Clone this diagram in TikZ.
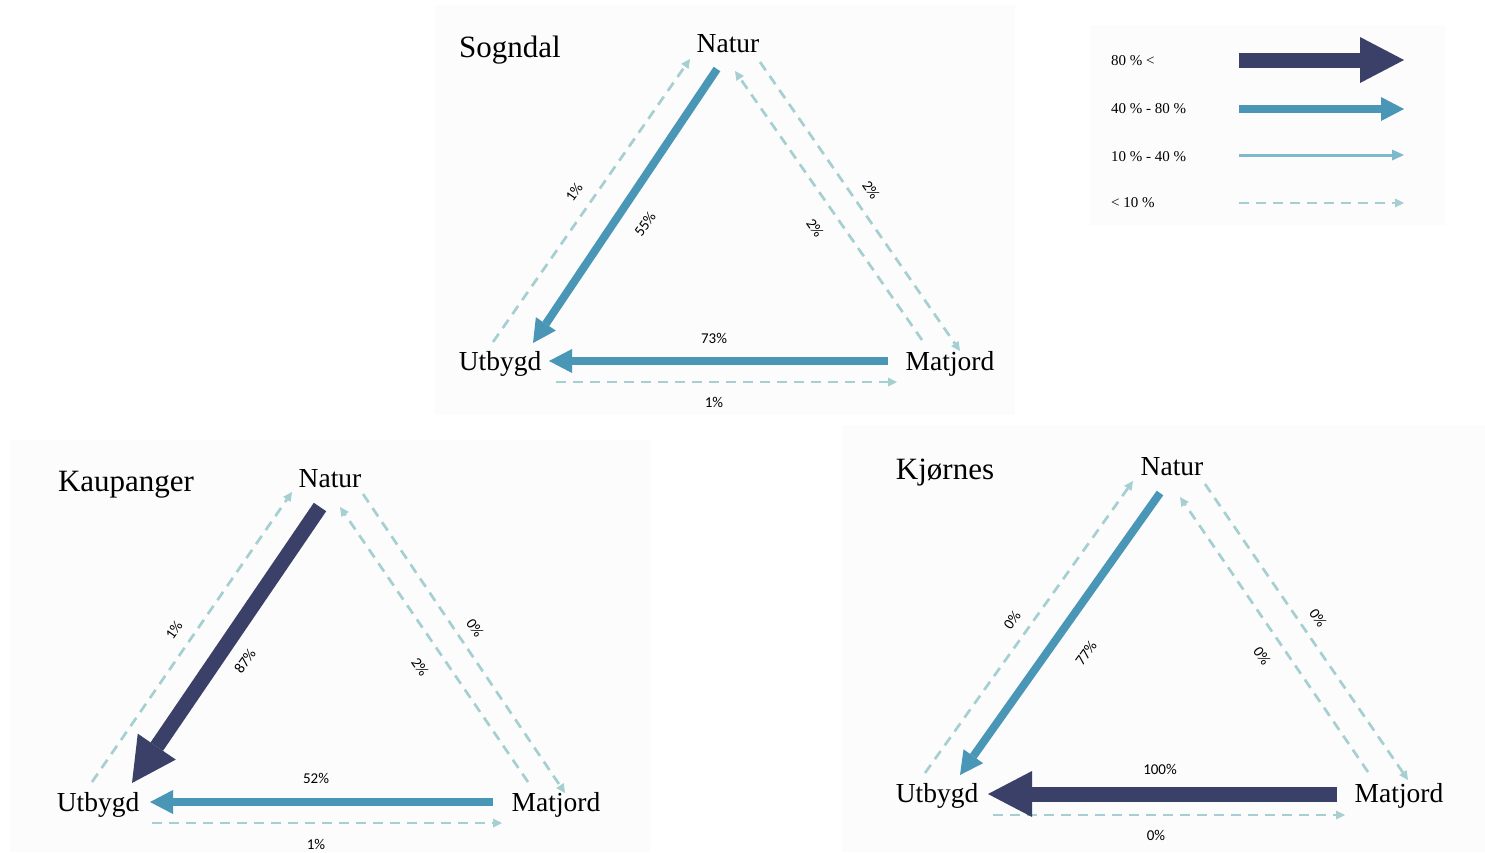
\documentclass[tikz,border=0pt]{standalone}
\usepackage{fontspec}
\setmainfont{Liberation Serif}
\newfontfamily\labfont{Carlito}
\usetikzlibrary{arrows.meta}
\definecolor{navy}{HTML}{3B4068}
\definecolor{midblue}{HTML}{4A96B6}
\definecolor{lightblue}{HTML}{7FB8CB}
\definecolor{dashblue}{HTML}{A5CFD1}
\definecolor{panelbg}{HTML}{FCFCFC}
\tikzset{
  place/.style={font=\fontsize{27.5}{30}\selectfont, inner sep=0pt},
  ttl/.style={font=\fontsize{31}{34}\selectfont, inner sep=0pt},
  pct/.style={font=\labfont\fontsize{15}{17}\selectfont, inner sep=0pt},
  leg/.style={font=\fontsize{15}{17}\selectfont, anchor=west, inner sep=0pt},
  flowlow/.style={draw=dashblue, line width=2.7pt, dash pattern=on 10pt off 7pt,
    -{Triangle[width=9pt,length=9pt,line width=0pt]}},
  flowmid/.style={draw=lightblue, line width=3pt,
    -{Triangle[width=11pt,length=12pt,line width=0pt]}},
  flowhigh/.style={draw=midblue, line width=8pt,
    -{Triangle[width=24pt,length=23pt,line width=0pt]}},
  flowtop/.style={draw=navy, line width=15pt,
    -{Triangle[width=46pt,length=44pt,line width=0pt]}},
  bgpanel/.style={fill=panelbg, draw=none}
}
\begin{document}
\begin{tikzpicture}[x=1pt,y=-1pt]
\useasboundingbox (0,0) rectangle (1485,852);
% faint panels
\fill[bgpanel] (435,5) rectangle (1015,415);
\fill[bgpanel] (10,440) rectangle (650,852);
\fill[bgpanel] (842,425) rectangle (1485,852);
\fill[bgpanel] (1090,25) rectangle (1445,225);

% ---------------- Sogndal ----------------
\node[ttl]   (sT) at (510,50) {Sogndal};
\node[place] (sN) at (728,44) {Natur};
\node[place] (sU) at (500,364) {Utbygd};
\node[place] (sM) at (950,364) {Matjord};
\coordinate (sNUa) at (717,69);  \coordinate (sNUb) at (533,343);
\coordinate (sMUa) at (888,361); \coordinate (sMUb) at (549,361);
\coordinate (sUNa) at (493,342); \coordinate (sUNb) at (690,59);
\coordinate (sNMa) at (760,62);  \coordinate (sNMb) at (960,351);
\coordinate (sMNa) at (922,340); \coordinate (sMNb) at (735,71);
\coordinate (sUMa) at (556,382); \coordinate (sUMb) at (897,382);
\draw[flowlow]  (sUNa) -- (sUNb);
\draw[flowlow]  (sNMa) -- (sNMb);
\draw[flowlow]  (sMNa) -- (sMNb);
\draw[flowlow]  (sUMa) -- (sUMb);
\draw[flowhigh] (sNUa) -- (sNUb);
\draw[flowhigh] (sMUa) -- (sMUb);
\node[pct, rotate=55]  (sL1) at (574,192) {1\%};
\node[pct, rotate=55]  (sL2) at (645,224) {55\%};
\node[pct, rotate=-55] (sL3) at (871,190) {2\%};
\node[pct, rotate=-55] (sL4) at (815,228) {2\%};
\node[pct]             (sL5) at (714,338) {73\%};
\node[pct]             (sL6) at (714,402) {1\%};

% ---------------- Kaupanger ----------------
\node[ttl]   (kT) at (126,485) {Kaupanger};
\node[place] (kN) at (330,479) {Natur};
\node[place] (kU) at (98,805) {Utbygd};
\node[place] (kM) at (556,805) {Matjord};
\coordinate (kNUa) at (320,507); \coordinate (kNUb) at (132,783);
\coordinate (kMUa) at (493,802); \coordinate (kMUb) at (150,802);
\coordinate (kUNa) at (92,782);  \coordinate (kUNb) at (292,492);
\coordinate (kNMa) at (363,494); \coordinate (kNMb) at (565,793);
\coordinate (kMNa) at (528,782); \coordinate (kMNb) at (340,507);
\coordinate (kUMa) at (152,823); \coordinate (kUMb) at (502,823);
\draw[flowlow]  (kUNa) -- (kUNb);
\draw[flowlow]  (kNMa) -- (kNMb);
\draw[flowlow]  (kMNa) -- (kMNb);
\draw[flowlow]  (kUMa) -- (kUMb);
\draw[flowtop]  (kNUa) -- (kNUb);
\draw[flowhigh] (kMUa) -- (kMUb);
\node[pct, rotate=55]  (kL1) at (174,630) {1\%};
\node[pct, rotate=55]  (kL2) at (245,661) {87\%};
\node[pct, rotate=-55] (kL3) at (475,628) {0\%};
\node[pct, rotate=-55] (kL4) at (420,667) {2\%};
\node[pct]             (kL5) at (316,778) {52\%};
\node[pct]             (kL6) at (316,844) {1\%};

% ---------------- Kjørnes ----------------
\node[ttl]   (jT) at (945,473) {Kjørnes};
\node[place] (jN) at (1172,467) {Natur};
\node[place] (jU) at (937,796) {Utbygd};
\node[place] (jM) at (1399,796) {Matjord};
\coordinate (jNUa) at (1160,493); \coordinate (jNUb) at (960,775);
\coordinate (jMUa) at (1337,794); \coordinate (jMUb) at (988,794);
\coordinate (jUNa) at (925,773);  \coordinate (jUNb) at (1133,481);
\coordinate (jNMa) at (1205,484); \coordinate (jNMb) at (1408,780);
\coordinate (jMNa) at (1368,772); \coordinate (jMNb) at (1180,497);
\coordinate (jUMa) at (993,815);  \coordinate (jUMb) at (1345,815);
\draw[flowlow]  (jUNa) -- (jUNb);
\draw[flowlow]  (jNMa) -- (jNMb);
\draw[flowlow]  (jMNa) -- (jMNb);
\draw[flowlow]  (jUMa) -- (jUMb);
\draw[flowhigh] (jNUa) -- (jNUb);
\draw[flowtop]  (jMUa) -- (jMUb);
\node[pct, rotate=55]  (jL1) at (1012,620) {0\%};
\node[pct, rotate=55]  (jL2) at (1086,653) {77\%};
\node[pct, rotate=-55] (jL3) at (1318,618) {0\%};
\node[pct, rotate=-55] (jL4) at (1262,656) {0\%};
\node[pct]             (jL5) at (1160,769) {100\%};
\node[pct]             (jL6) at (1156,835) {0\%};

% ---------------- Legend ----------------
\node[leg] (g1) at (1111,61)  {80 \% <};
\node[leg] (g2) at (1111,109) {40 \% - 80 \%};
\node[leg] (g3) at (1111,157) {10 \% - 40 \%};
\node[leg] (g4) at (1111,203) {< 10 \%};
\coordinate (g1a) at (1239,60);  \coordinate (g1b) at (1404,60);
\coordinate (g2a) at (1239,109); \coordinate (g2b) at (1404,109);
\coordinate (g3a) at (1239,155); \coordinate (g3b) at (1404,155);
\coordinate (g4a) at (1239,203); \coordinate (g4b) at (1404,203);
\draw[flowtop]  (g1a) -- (g1b);
\draw[flowhigh] (g2a) -- (g2b);
\draw[flowmid]  (g3a) -- (g3b);
\draw[flowlow]  (g4a) -- (g4b);
\end{tikzpicture}
\end{document}
